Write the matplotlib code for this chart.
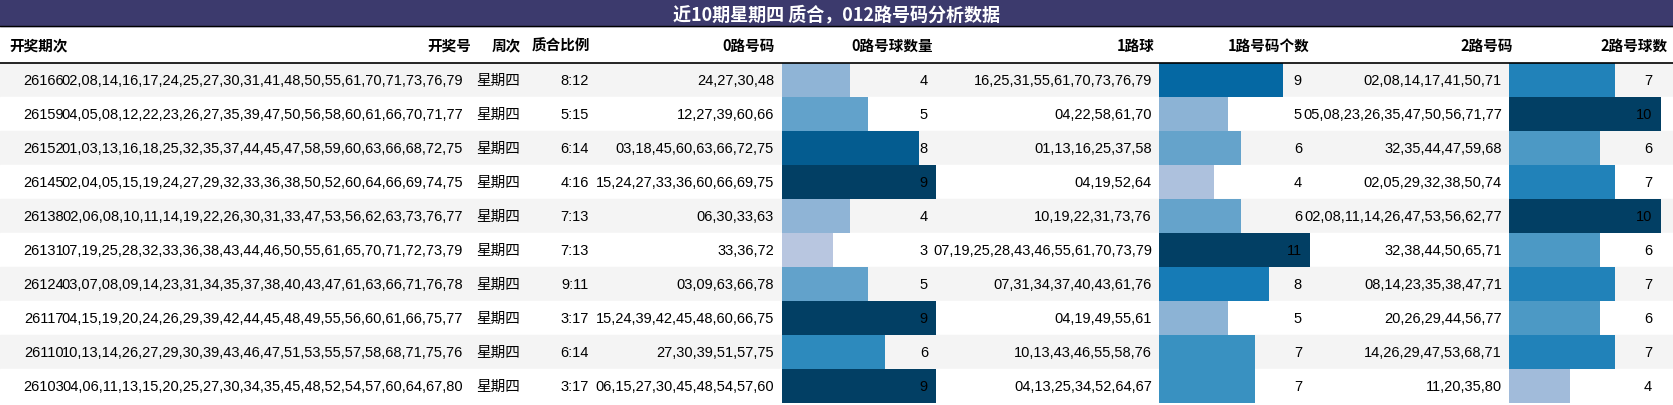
import matplotlib
matplotlib.use("Agg")
import matplotlib.pyplot as plt
from matplotlib import colormaps
from matplotlib.patches import Rectangle

plt.rcParams['font.family'] = ['Liberation Sans', 'Noto Sans CJK SC', 'DejaVu Sans']

# ---- data ------------------------------------------------------------------
periods = ["26166", "26159", "26152", "26145", "26138", "26131", "26124", "26117", "26110", "26103"]
draws = [
    "02,08,14,16,17,24,25,27,30,31,41,48,50,55,61,70,71,73,76,79",
    "04,05,08,12,22,23,26,27,35,39,47,50,56,58,60,61,66,70,71,77",
    "01,03,13,16,18,25,32,35,37,44,45,47,58,59,60,63,66,68,72,75",
    "02,04,05,15,19,24,27,29,32,33,36,38,50,52,60,64,66,69,74,75",
    "02,06,08,10,11,14,19,22,26,30,31,33,47,53,56,62,63,73,76,77",
    "07,19,25,28,32,33,36,38,43,44,46,50,55,61,65,70,71,72,73,79",
    "03,07,08,09,14,23,31,34,35,37,38,40,43,47,61,63,66,71,76,78",
    "04,15,19,20,24,26,29,39,42,44,45,48,49,55,56,60,61,66,75,77",
    "10,13,14,26,27,29,30,39,43,46,47,51,53,55,57,58,68,71,75,76",
    "04,06,11,13,15,20,25,27,30,34,35,45,48,52,54,57,60,64,67,80",
]
weekday = ["星期四"] * 10
ratio = ["8:12", "5:15", "6:14", "4:16", "7:13", "7:13", "9:11", "3:17", "6:14", "3:17"]
road0 = ["24,27,30,48", "12,27,39,60,66", "03,18,45,60,63,66,72,75", "15,24,27,33,36,60,66,69,75",
         "06,30,33,63", "33,36,72", "03,09,63,66,78", "15,24,39,42,45,48,60,66,75",
         "27,30,39,51,57,75", "06,15,27,30,45,48,54,57,60"]
road0_n = [4, 5, 8, 9, 4, 3, 5, 9, 6, 9]
road1 = ["16,25,31,55,61,70,73,76,79", "04,22,58,61,70", "01,13,16,25,37,58", "04,19,52,64",
         "10,19,22,31,73,76", "07,19,25,28,43,46,55,61,70,73,79", "07,31,34,37,40,43,61,76",
         "04,19,49,55,61", "10,13,43,46,55,58,76", "04,13,25,34,52,64,67"]
road1_n = [9, 5, 6, 4, 6, 11, 8, 5, 7, 7]
road2 = ["02,08,14,17,41,50,71", "05,08,23,26,35,47,50,56,71,77", "32,35,44,47,59,68",
         "02,05,29,32,38,50,74", "02,08,11,14,26,47,53,56,62,77", "32,38,44,50,65,71",
         "08,14,23,35,38,47,71", "20,26,29,44,56,77", "14,26,29,47,53,68,71", "11,20,35,80"]
road2_n = [7, 10, 6, 7, 10, 6, 7, 6, 7, 4]

title = "近10期星期四 质合，012路号码分析数据"
headers = ["开奖期次", "开奖号", "周次", "质合比例", "0路号码", "0路号球数量",
           "1路球", "1路号码个数", "2路号码", "2路号球数"]

# ---- layout (pixel coords) -------------------------------------------------
W, H = 1674, 406
TITLE_H = 27
HEAD_BOTTOM = 64
ROW_H = 34
FS = 10.5

fig = plt.figure(figsize=(W / 100, H / 100), dpi=100)
ax = fig.add_axes([0, 0, 1, 1])
ax.set_xlim(0, W)
ax.set_ylim(H, 0)
ax.axis("off")

ax.add_patch(Rectangle((0, 0), W, TITLE_H, color="#3c3a6d", zorder=1))
ax.text(W / 2, TITLE_H / 2 + 1, title, color="white", fontsize=13, fontweight="bold",
        ha="center", va="center", family=['Noto Sans CJK SC', 'DejaVu Sans'])
ax.plot([0, W], [TITLE_H, TITLE_H], color="black", lw=1)
ax.plot([0, W], [HEAD_BOTTOM, HEAD_BOTTOM], color="black", lw=1.2, zorder=5)

head_y = (TITLE_H + HEAD_BOTTOM) / 2
head_pos = [(9, "left"), (471, "right"), (521, "right"), (590, "right"), (775, "right"),
            (933, "right"), (1155, "right"), (1310, "right"), (1513, "right"), (1668, "right")]
for (x, ha), h in zip(head_pos, headers):
    ax.text(x, head_y, h, fontsize=FS, fontweight="bold", ha=ha, va="center",
            family=['Noto Sans CJK SC', 'DejaVu Sans'])

cmap = colormaps["PuBu"]
bar_cols = [(782, 154, road0_n, 928), (1159, 151, road1_n, 1302), (1509, 152, road2_n, 1652)]

for i in range(len(periods)):
    y0 = HEAD_BOTTOM + i * ROW_H
    yc = y0 + ROW_H / 2
    ax.add_patch(Rectangle((0, y0), W, ROW_H, color="#f4f4f4" if i % 2 == 0 else "white", zorder=0))
    ax.text(64, yc, periods[i], fontsize=FS, ha="right", va="center")
    ax.text(463, yc, draws[i], fontsize=FS, ha="right", va="center")
    ax.text(498, yc, weekday[i], fontsize=FS, ha="center", va="center",
            family=['Noto Sans CJK SC', 'DejaVu Sans'])
    ax.text(589, yc, ratio[i], fontsize=FS, ha="right", va="center")
    ax.text(774, yc, road0[i], fontsize=FS, ha="right", va="center")
    ax.text(1152, yc, road1[i], fontsize=FS, ha="right", va="center")
    ax.text(1502, yc, road2[i], fontsize=FS, ha="right", va="center")

for x0, width, vals, tx in bar_cols:
    vmax = max(vals)
    for i, v in enumerate(vals):
        yc = HEAD_BOTTOM + i * ROW_H + ROW_H / 2
        ax.barh(yc, v / vmax * width, left=x0, height=ROW_H, color=cmap(v / vmax * 0.97), zorder=2)
        ax.text(tx, yc, str(v), fontsize=FS, ha="right", va="center", zorder=3)

fig.savefig("out.png", dpi=100)
